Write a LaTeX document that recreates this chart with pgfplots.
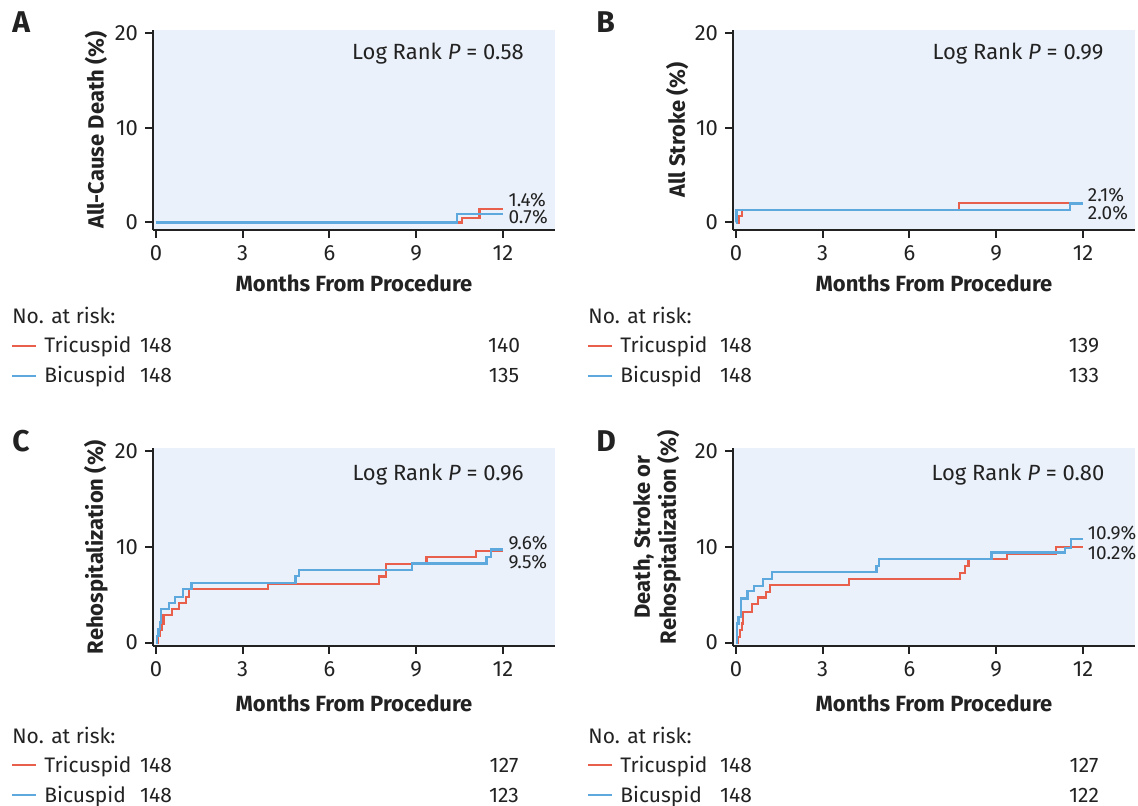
\documentclass[border=0pt]{standalone}
\usepackage{fontspec}
\setmainfont{Fira Sans}
\usepackage{pgfplots}
\pgfplotsset{compat=1.18}

\definecolor{trired}{HTML}{E8604C}
\definecolor{biblue}{HTML}{5DA8DC}
\definecolor{panelbg}{HTML}{EAF1FA}
\definecolor{ink}{HTML}{222222}

\pgfplotsset{
  kmpanel/.style={
    scale only axis, width=201pt,
    axis lines=left, axis line style={-, line width=1pt, ink},
    axis background/.style={fill=panelbg},
    xmin=-0.1, xmax=13.8,
    xtick={0,3,6,9,12}, ytick={0,10,20},
    tick align=outside, major tick length=4pt,
    tick style={line width=1pt, ink},
    ticklabel style={font=\fontsize{11}{13}\selectfont, text=ink},
    /pgf/number format/assume math mode=true,
    xlabel={Months From Procedure},
    xlabel style={font=\bfseries\fontsize{11}{13}\selectfont, text=ink,
      at={(axis description cs:0.5,-0.265)}, anchor=center},
    ylabel style={font=\bfseries\fontsize{11}{13}\selectfont, text=ink,
      at={(axis description cs:-0.142,0.5)}, anchor=center, align=center},
    clip=false,
  },
  toprow/.style={height=100pt, ymin=-0.8, ymax=20.35},
  botrow/.style={height=99pt, ymin=-0.35, ymax=20.3,
    xlabel style={at={(axis description cs:0.5,-0.29)}}},
  tri/.style={const plot, trired, line width=1.1pt, no marks},
  bic/.style={const plot, biblue, line width=1.1pt, no marks},
}
\tikzset{
  pval/.style={font=\fontsize{11}{13}\selectfont, text=ink},
  endlab/.style={anchor=west, inner sep=0pt, font=\fontsize{9.5}{11}\selectfont, text=ink},
  letter/.style={anchor=base west, inner sep=0pt, font=\bfseries\fontsize{15}{17}\selectfont},
}

% no. at risk block: #1 left x, #2 header baseline, #3 x of month 0, #4 x of month 12, #5 tri, #6 bic
\newcommand\riskblock[6]{%
  \node[anchor=base west, inner sep=0pt] at (#1,#2) {No. at risk:};
  \draw[trired, line width=1pt] (#1,#2+22) -- (#1+24,#2+22);
  \node[anchor=base west, inner sep=0pt] at (#1+32,#2+29) {Tricuspid};
  \node[anchor=base, inner sep=0pt] at (#3,#2+29) {148};
  \node[anchor=base, inner sep=0pt] at (#4,#2+29) {#5};
  \draw[biblue, line width=1pt] (#1,#2+52) -- (#1+24,#2+52);
  \node[anchor=base west, inner sep=0pt] at (#1+32,#2+59) {Bicuspid};
  \node[anchor=base, inner sep=0pt] at (#3,#2+59) {148};
  \node[anchor=base, inner sep=0pt] at (#4,#2+59) {#6};
}

\begin{document}
\begin{tikzpicture}
\useasboundingbox (0,0) rectangle (569pt,-403pt);

% A
\begin{axis}[kmpanel, toprow, at={(76.5pt,-115pt)}, anchor=south west,
  ylabel={All-Cause Death (\%)}]
\addplot[tri] coordinates {(0,0) (10.58,0.5) (11.19,1.42) (12,1.42)};
\addplot[bic] coordinates {(0,0) (10.4,0.85) (12,0.85)};
\node[pval] at (axis description cs:0.709,0.88) {Log Rank \textit{P} = 0.58};
\node[endlab] at (axis cs:12.18,2.33) {1.4\%};
\node[endlab] at (axis cs:12.18,0.53) {0.7\%};
\end{axis}

% B
\begin{axis}[kmpanel, toprow, at={(366.5pt,-115pt)}, anchor=south west,
  ylabel={All Stroke (\%)}, ylabel style={at={(axis description cs:-0.139,0.5)}}]
\addplot[tri] coordinates {(0,0) (0.1,0.68) (0.2,1.35) (7.72,2.05) (12,2.05)};
\addplot[bic] coordinates {(0,0) (0.02,1.35) (11.54,2.0) (12,2.0)};
\node[pval] at (axis description cs:0.709,0.88) {Log Rank \textit{P} = 0.99};
\node[endlab] at (axis cs:12.16,2.9) {2.1\%};
\node[endlab] at (axis cs:12.16,0.98) {2.0\%};
\end{axis}

% C
\begin{axis}[kmpanel, botrow, at={(76.5pt,-323pt)}, anchor=south west,
  ylabel={Rehospitalization (\%)}]
\addplot[tri] coordinates {
  (0,0) (0.08,0.68) (0.14,1.35) (0.2,2.0) (0.26,2.9) (0.55,3.5) (0.8,4.1)
  (1.03,4.8) (1.15,5.56) (3.87,6.1) (7.72,6.9) (7.95,8.2) (9.36,8.96)
  (11.08,9.58) (12,9.58)};
\addplot[bic] coordinates {
  (0,0) (0.05,0.7) (0.09,1.4) (0.14,2.1) (0.18,3.47) (0.46,4.1) (0.66,4.8)
  (0.94,5.56) (1.23,6.25) (4.83,6.94) (4.94,7.57) (8.85,8.26) (11.43,8.96)
  (11.6,9.72) (12,9.72)};
\node[pval] at (axis description cs:0.709,0.864) {Log Rank \textit{P} = 0.96};
\node[endlab] at (axis cs:12.18,10.4) {9.6\%};
\node[endlab] at (axis cs:12.18,8.4) {9.5\%};
\end{axis}

% D
\begin{axis}[kmpanel, botrow, at={(366.5pt,-323pt)}, anchor=south west,
  ylabel={Death, Stroke or\\Rehospitalization (\%)},
  ylabel style={at={(axis description cs:-0.189,0.55)}}]
\addplot[tri] coordinates {
  (0,0) (0.08,0.6) (0.14,1.3) (0.2,2.0) (0.24,3.2) (0.57,4.0) (0.77,4.7)
  (1.03,5.3) (1.18,6.0) (3.9,6.67) (7.75,7.3) (7.92,8.0) (8.04,8.7)
  (9.38,9.3) (11.06,10.0) (12,10.0)};
\addplot[bic] coordinates {
  (0,0) (0.03,2.0) (0.09,2.7) (0.17,4.6) (0.4,5.4) (0.63,5.9) (0.95,6.67)
  (1.26,7.4) (4.86,8.0) (4.94,8.75) (8.84,9.4) (11.37,9.83) (11.6,10.8)
  (12,10.8)};
\node[pval] at (axis description cs:0.709,0.864) {Log Rank \textit{P} = 0.80};
\node[endlab] at (axis cs:12.16,11.4) {10.9\%};
\node[endlab] at (axis cs:12.16,9.35) {10.2\%};
\end{axis}

\begin{scope}[x=0.5pt, y=-0.5pt, font=\fontsize{10.5}{12.5}\selectfont, text=ink]
\node[letter] at (12,33) {A};
\node[letter] at (596,33) {B};
\node[letter] at (12,451) {C};
\node[letter] at (596,451) {D};
\riskblock{12}{324}{156}{504}{140}{135}
\riskblock{588}{324}{736}{1084}{139}{133}
\riskblock{12}{743}{156}{504}{127}{123}
\riskblock{588}{743}{736}{1084}{127}{122}
\end{scope}
\end{tikzpicture}
\end{document}
